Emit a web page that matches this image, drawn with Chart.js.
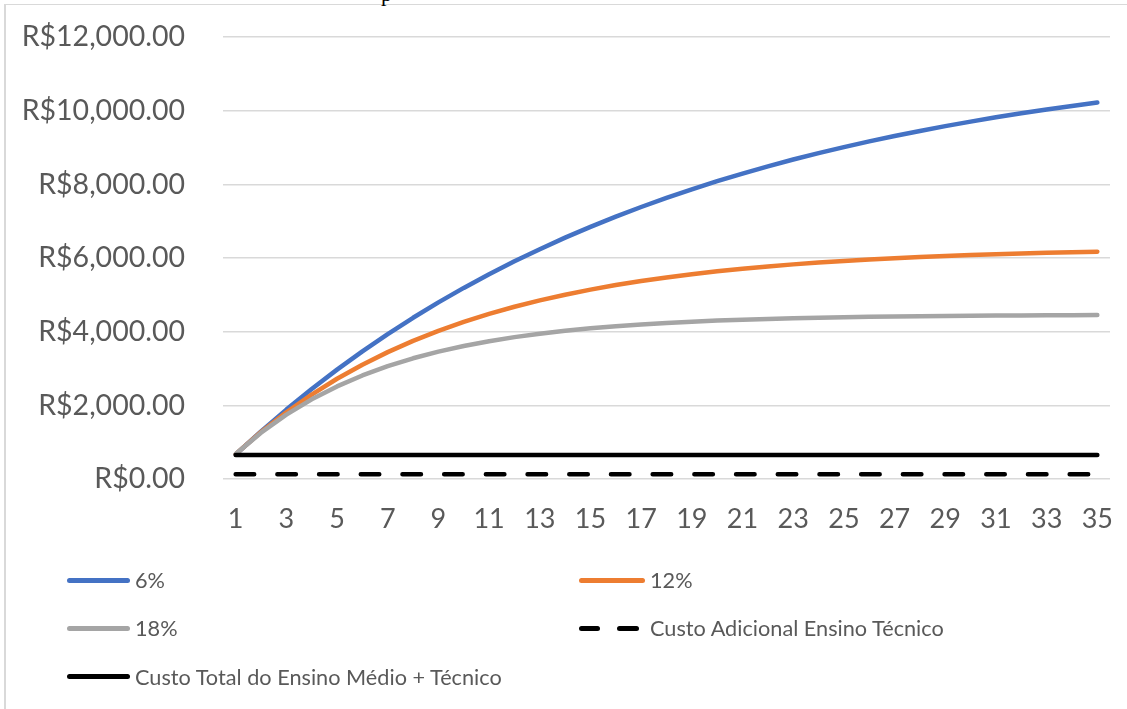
<!DOCTYPE html>
<html>
<head>
<meta charset="utf-8">
<script src="https://cdn.jsdelivr.net/npm/chart.js@4.4.1/dist/chart.umd.min.js"></script>
<style>
  html, body { margin: 0; padding: 0; background: #fff; }
  body { width: 1127px; height: 709px; position: relative; overflow: hidden; font-family: "Lato", sans-serif; }
  #frame { position: absolute; left: 4px; top: 4px; width: 1200px; height: 800px;
           border-left: 2px solid #d9d9d9; border-top: 1.5px solid #d9d9d9; }
  #head { position: absolute; left: 381px; top: -19px; font: 22px "Liberation Serif", serif; color: #000; }
  #c { position: absolute; left: 0; top: 0; }
  .sw { position: absolute; height: 5px; border-radius: 3px; }
  .lt { position: absolute; font-size: 21.7px; color: #595959; white-space: nowrap; line-height: 30px; }
</style>
</head>
<body>
<div id="frame"></div>
<div id="head">p</div>
<canvas id="c" width="1127" height="709"></canvas>

<div class="sw" style="left:67px;top:577.5px;width:63px;background:#4472C4"></div>
<div class="lt" style="left:135px;top:565px">6%</div>
<div class="sw" style="left:579px;top:577.5px;width:66px;background:#ED7D31"></div>
<div class="lt" style="left:650px;top:565px">12%</div>

<div class="sw" style="left:67px;top:625.5px;width:63px;background:#A5A5A5"></div>
<div class="lt" style="left:135px;top:613px">18%</div>
<div class="sw" style="left:579px;top:625.5px;width:21px;background:#000"></div>
<div class="sw" style="left:617px;top:625.5px;width:22px;background:#000"></div>
<div class="lt" style="left:650px;top:613px">Custo Adicional Ensino Técnico</div>

<div class="sw" style="left:67px;top:674px;width:63px;background:#000"></div>
<div class="lt" style="left:135px;top:661.5px">Custo Total do Ensino Médio + Técnico</div>

<script>
// Years of the horizon
const anos = [1, 2, 3, 4, 5, 6, 7, 8, 9, 10, 11, 12, 13, 14, 15, 16, 17, 18,
              19, 20, 21, 22, 23, 24, 25, 26, 27, 28, 29, 30, 31, 32, 33, 34, 35];

// Accumulated present value of the extra income, by discount rate (R$)
const taxa6 = [665, 1292, 1884, 2443, 2969, 3466, 3935, 4377, 4795, 5188,
               5560, 5910, 6240, 6552, 6846, 7124, 7385, 7632, 7865, 8085,
               8293, 8488, 8673, 8847, 9011, 9166, 9312, 9450, 9580, 9703,
               9819, 9928, 10031, 10128, 10220];
const taxa12 = [674, 1276, 1813, 2293, 2721, 3104, 3445, 3750, 4022, 4265,
                4482, 4676, 4849, 5004, 5141, 5265, 5375, 5473, 5560, 5639,
                5708, 5771, 5827, 5876, 5921, 5960, 5996, 6027, 6056, 6081,
                6103, 6123, 6141, 6157, 6172];
const taxa18 = [681, 1258, 1747, 2162, 2513, 2811, 3063, 3277, 3458, 3611,
                3742, 3852, 3945, 4024, 4092, 4148, 4197, 4238, 4272, 4301,
                4326, 4347, 4365, 4380, 4393, 4404, 4413, 4421, 4428, 4433,
                4438, 4442, 4445, 4448, 4451];

// Cost references (R$)
const custoAdicional = [130, 130, 130, 130, 130, 130, 130, 130, 130, 130,
                        130, 130, 130, 130, 130, 130, 130, 130, 130, 130,
                        130, 130, 130, 130, 130, 130, 130, 130, 130, 130,
                        130, 130, 130, 130, 130];
const custoTotal = [650, 650, 650, 650, 650, 650, 650, 650, 650, 650,
                    650, 650, 650, 650, 650, 650, 650, 650, 650, 650,
                    650, 650, 650, 650, 650, 650, 650, 650, 650, 650,
                    650, 650, 650, 650, 650];

// Value axis
const yMin = 0, yMax = 12000, yStep = 2000;

const brl = v => 'R$' + Number(v).toLocaleString('en-US', { minimumFractionDigits: 2, maximumFractionDigits: 2 });

const serie = (label, data, color, order, extra) => Object.assign({
  label, data, borderColor: color, backgroundColor: color, order,
  borderWidth: 4.5, pointRadius: 0, pointHoverRadius: 0, tension: 0,
  borderCapStyle: 'round', borderJoinStyle: 'round', fill: false
}, extra || {});

new Chart(document.getElementById('c'), {
  type: 'line',
  data: {
    labels: anos,
    datasets: [
      serie('6%', taxa6, '#4472C4', 5),
      serie('12%', taxa12, '#ED7D31', 4),
      serie('18%', taxa18, '#A5A5A5', 3),
      serie('Custo Adicional Ensino Técnico', custoAdicional, '#000000', 2, { borderDash: [18.5, 23.2] }),
      serie('Custo Total do Ensino Médio + Técnico', custoTotal, '#000000', 1)
    ]
  },
  options: {
    responsive: false,
    animation: false,
    devicePixelRatio: 1,
    layout: { padding: { top: 37, right: 17, left: 0, bottom: 0 } },
    plugins: { legend: { display: false }, tooltip: { enabled: false }, title: { display: false } },
    scales: {
      x: {
        offset: true,
        grid: { display: true, color: 'rgba(0,0,0,0)', drawTicks: true, tickLength: 24, tickColor: 'rgba(0,0,0,0)' },
        border: { display: false },
        afterFit: s => { s.height = 230; },
        ticks: {
          autoSkip: false, maxRotation: 0, padding: 0,
          color: '#595959', font: { family: 'Lato', size: 27 },
          callback: (v, i) => (i % 2 === 0 ? String(anos[i]) : '')
        }
      },
      y: {
        min: yMin, max: yMax,
        grid: { color: '#d9d9d9', lineWidth: 1.5, drawTicks: true, tickLength: 38, tickColor: 'rgba(0,0,0,0)' },
        border: { display: false },
        afterFit: s => { s.width = 223; },
        ticks: {
          stepSize: yStep, padding: 0,
          color: '#595959', font: { family: 'Lato', size: 28.5 },
          callback: v => brl(v)
        }
      }
    }
  }
});
</script>
</body>
</html>
